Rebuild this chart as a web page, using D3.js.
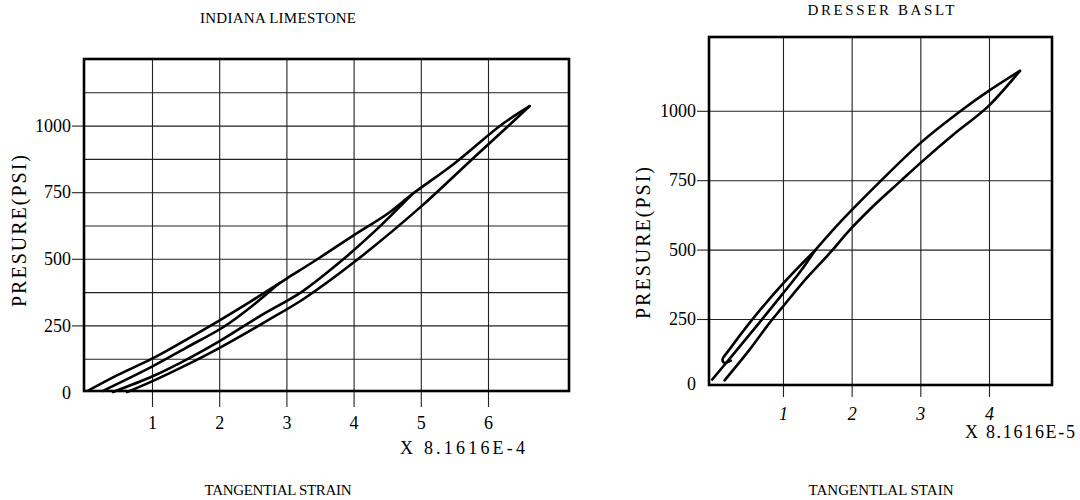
<!DOCTYPE html>
<html>
<head>
<meta charset="utf-8">
<script src="https://cdn.jsdelivr.net/npm/d3@7"></script>
<style>
body { margin: 0; background: #fff; }
svg { display: block; font-family: "Liberation Serif", "DejaVu Serif", serif; }
</style>
</head>
<body>
<svg id="chart" width="1080" height="500"></svg>
<script>
// Indiana limestone: strain (x 8.1616E-4) vs pressure (psi)
var limeXTicks = [1, 2, 3, 4, 5, 6];
var limeYTicks = [0, 250, 500, 750, 1000];
var limeYGrid = [125, 250, 375, 500, 625, 750, 875, 1000, 1125];
var limeUnload = [[0.05, 5], [0.5, 65], [1.0, 125], [1.5, 195], [2.0, 268], [2.5, 345], [3.0, 425], [3.5, 505],
    [4.0, 588], [4.5, 668], [4.87, 742], [5.5, 858], [6.21, 1005], [6.62, 1073]];
var limeSmall = [[0.27, 4], [1.0, 95], [1.5, 165], [2.07, 245], [2.5, 325], [2.9, 410]];
var limeReload = [[0.42, 0], [1.0, 58], [1.5, 120], [2.0, 190], [2.6, 284], [3.24, 378], [3.77, 482],
    [4.3, 600], [4.87, 742]];
var limeLoad = [[0.63, 0], [1.0, 40], [1.5, 100], [2.0, 165], [2.71, 267], [3.26, 350], [3.98, 482],
    [4.99, 693], [5.76, 873], [6.33, 1005], [6.62, 1073]];

// Dresser basalt: strain (x 8.1616E-5) vs pressure (psi)
var basaltXTicks = [1, 2, 3, 4];
var basaltYTicks = [0, 250, 500, 750, 1000];
var basaltYGrid = [250, 500, 750, 1000];
var basaltUpper = [[1.47, 498], [1.86, 606], [2.41, 744], [3.02, 888], [3.65, 1011], [3.98, 1069], [4.45, 1144]];
var basaltHook = [[1.47, 498], [0.98, 372], [0.52, 238], [0.22, 140], [0.12, 104], [0.15, 92], [0.24, 100]];
var basaltMid = [[-0.03, 32], [0.3, 130], [0.66, 238], [0.98, 336], [1.25, 420], [1.47, 498]];
var basaltLow = [[0.15, 29], [0.5, 135], [0.81, 238], [0.98, 289], [1.3, 385], [1.71, 495], [1.97, 570],
    [2.35, 665], [2.7, 744], [3.02, 816], [3.5, 918], [3.98, 1014], [4.45, 1144]];

var svg = d3.select("#chart");
var serif = '"Liberation Serif", "DejaVu Serif", serif';

function drawPanel(p) {
    var x = d3.scaleLinear().domain(p.xDom).range(p.xRange);
    var y = d3.scaleLinear().domain(p.yDom).range(p.yRange);
    var g = svg.append("g");

    // horizontal grid
    g.append("g")
        .attr("transform", "translate(" + p.left + ",0)")
        .call(d3.axisLeft(y).tickValues(p.gridY).tickSize(-(p.right - p.left)).tickFormat(""))
        .call(function(a) {
            a.select(".domain").remove();
            a.selectAll(".tick line").attr("stroke", "#222").attr("stroke-width", 1.1);
        });

    // vertical grid, running below the frame as ticks
    g.append("g")
        .attr("transform", "translate(0," + p.bottom + ")")
        .call(d3.axisBottom(x).tickValues(p.ticksX).tickSize(p.tickDown).tickPadding(p.padX).tickFormat(d3.format("d")))
        .call(function(a) {
            a.select(".domain").remove();
            a.selectAll(".tick line").attr("y1", -(p.bottom - p.top)).attr("stroke", "#222").attr("stroke-width", 1.1);
            a.selectAll(".tick text").attr("font-style", p.italicX ? "italic" : null);
        })
        .attr("font-family", serif)
        .attr("font-size", 18);

    // y tick labels
    g.append("g")
        .attr("transform", "translate(" + p.left + ",0)")
        .call(d3.axisLeft(y).tickValues(p.ticksY).tickSize(12).tickPadding(1).tickFormat(d3.format("d")))
        .call(function(a) {
            a.select(".domain").remove();
            a.selectAll(".tick line").attr("stroke", "#222").attr("stroke-width", 1.1)
                .filter(function(d) { return d == 0; }).remove();
            a.selectAll(".tick text")
                .filter(function(d) { return d == 0; })
                .attr("dy", p.zeroDy);
        })
        .attr("font-family", serif)
        .attr("font-size", 18);

    // frame
    g.append("rect")
        .attr("x", p.left)
        .attr("y", p.top)
        .attr("width", p.right - p.left)
        .attr("height", p.bottom - p.top)
        .attr("fill", "none")
        .attr("stroke", "#000")
        .attr("stroke-width", 2.6);

    var line = d3.line()
        .x(function(d) { return x(d[0]); })
        .y(function(d) { return y(d[1]); })
        .curve(d3.curveCatmullRom.alpha(0.5));

    g.selectAll(".curve")
        .data(p.series)
        .enter()
        .append("path")
        .attr("class", "curve")
        .attr("d", line)
        .attr("fill", "none")
        .attr("stroke", "#000")
        .attr("stroke-width", 2.6)
        .attr("stroke-linejoin", "round")
        .attr("stroke-linecap", "round");

    function label(txt, tx, ty, size, len, opts) {
        opts = opts || {};
        var t = g.append("text")
            .attr("font-size", size)
            .attr("textLength", len)
            .attr("lengthAdjust", "spacing")
            .attr("text-anchor", opts.anchor || "middle")
            .attr("fill", "#000")
            .text(txt);
        if (opts.rotate)
            t.attr("transform", "translate(" + tx + "," + ty + ") rotate(-90)");
        else
            t.attr("x", tx).attr("y", ty);
    }

    label(p.title, p.titleX, p.titleY, 15, p.titleLen);
    label(p.xTitle, p.titleX, 495, 15, p.xTitleLen);
    label("PRESURE(PSI)", p.yTitleX, p.yTitleY, 20, 152, { rotate: true });
    label("X 8.1616E-" + p.exp, p.unitX, p.unitY, 18, p.unitLen, { anchor: "start" });
}

drawPanel({
    left: 84, right: 569, top: 59, bottom: 391,
    xDom: [0, 6], xRange: [84.8, 488],
    yDom: [0, 1000], yRange: [392, 125.6],
    ticksX: limeXTicks, ticksY: limeYTicks, gridY: limeYGrid,
    tickDown: 16, padX: 9, italicX: false, zeroDy: "0.36em",
    series: [limeUnload, limeSmall, limeReload, limeLoad],
    title: "INDIANA LIMESTONE", titleX: 278, titleY: 23, titleLen: 156,
    xTitle: "TANGENTIAL STRAIN", xTitleLen: 147,
    yTitleX: 26, yTitleY: 231,
    exp: "4", unitX: 400, unitY: 454, unitLen: 125
});

drawPanel({
    left: 709, right: 1052, top: 37, bottom: 385,
    xDom: [0, 4], xRange: [714.3, 989],
    yDom: [0, 1000], yRange: [388.4, 110.8],
    ticksX: basaltXTicks, ticksY: basaltYTicks, gridY: basaltYGrid,
    tickDown: 12, padX: 10, italicX: true, zeroDy: "0.08em",
    series: [basaltUpper, basaltHook, basaltMid, basaltLow],
    title: "DRESSER BASLT", titleX: 881, titleY: 15, titleLen: 147,
    xTitle: "TANGENTLAL STAIN", xTitleLen: 145,
    yTitleX: 650, yTitleY: 243,
    exp: "5", unitX: 965, unitY: 438, unitLen: 110
});
</script>
</body>
</html>
